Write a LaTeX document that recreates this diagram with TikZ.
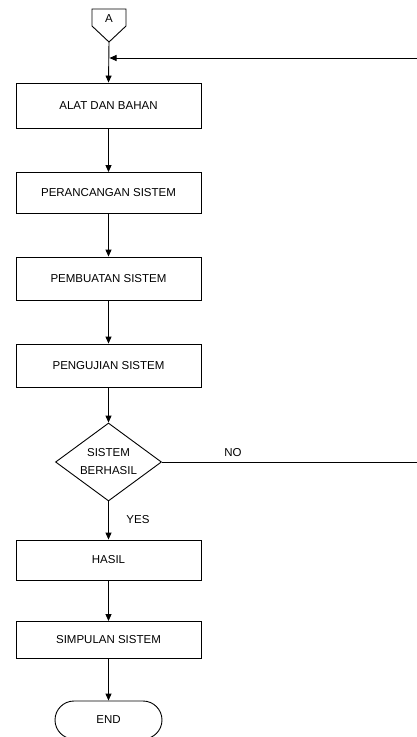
\documentclass[tikz,border=0pt]{standalone}
\usepackage{fontspec}
\setmainfont{Liberation Sans}
\usetikzlibrary{arrows.meta,shapes.geometric,shapes.misc}
\begin{document}
\begin{tikzpicture}[x=1pt,y=-1pt,
  every node/.style={font=\fontsize{11.5}{13.5}\selectfont},
  procbox/.style={draw=black,line width=0.9pt,minimum width=185pt,inner sep=0pt},
  decision/.style={draw=black,line width=0.9pt,shape=diamond,minimum width=106pt,minimum height=78pt,aspect=1.36,inner sep=0pt,align=center,font=\fontsize{11.5}{18}\selectfont},
  term/.style={draw=black,line width=0.9pt,shape=rounded rectangle,minimum width=107pt,minimum height=38pt,inner sep=0pt},
  arr/.style={line width=0.9pt,-{Triangle[length=7pt,width=6pt]}},
  plain/.style={line width=0.9pt}]
\useasboundingbox (0,0) rectangle (417,737);
% off-page connector A
\draw[line width=0.9pt] (92,9) -- (126,9) -- (126,26) -- (109,42) -- (92,26) -- cycle;
\node (A) at (109,19) {A};
\coordinate (Abot) at (109,42);
% process boxes
\node[procbox,minimum height=45pt] (b1) at (108.5,105.5) {ALAT DAN BAHAN};
\node[procbox,minimum height=41pt] (b2) at (108.5,193) {PERANCANGAN SISTEM};
\node[procbox,minimum height=43pt] (b3) at (108.5,278.5) {PEMBUATAN SISTEM};
\node[procbox,minimum height=43pt] (b4) at (108.5,365.5) {PENGUJIAN SISTEM};
\node[decision] (d) at (108.5,462) {SISTEM\\BERHASIL};
\node[procbox,minimum height=40pt] (b5) at (108.5,560) {HASIL};
\node[procbox,minimum height=37pt] (b6) at (108.5,640) {SIMPULAN SISTEM};
\node[term] (e) at (108.5,720) {END};
% connectors
\draw[arr] (Abot) -- (b1.north);
\draw[arr] (b1) -- (b2);
\draw[arr] (b2) -- (b3);
\draw[arr] (b3) -- (b4);
\draw[arr] (b4) -- (d.north);
\draw[arr] (d.south) -- (b5.north);
\draw[arr] (b5) -- (b6);
\draw[arr] (b6) -- (e);
% NO branch and feedback
\coordinate (noR) at (417,462);
\coordinate (fbR) at (417,58);
\coordinate (fbJ) at (109.5,58);
\draw[plain] (d.east) -- (noR);
\draw[arr] (fbR) -- (fbJ);
\node (no) at (233,453) {NO};
\node (yes) at (138,520) {YES};
\end{tikzpicture}
\end{document}
